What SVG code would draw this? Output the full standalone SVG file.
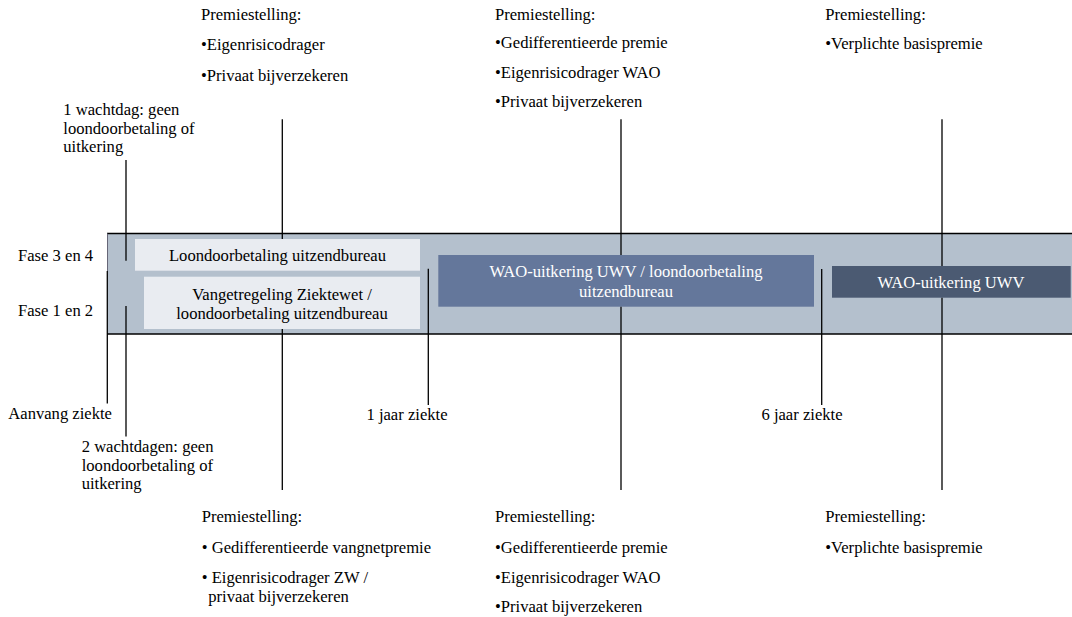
<svg xmlns="http://www.w3.org/2000/svg" width="1072" height="617" viewBox="0 0 1072 617">
<style>
text{font-family:"Liberation Serif","Times New Roman",serif;font-size:16.6px;fill:#000}
.c{text-anchor:middle}
.w{fill:#fff}
.ln{stroke:#000;stroke-width:1.3;fill:none}
.light{fill:#e9ecf1}
</style>
<rect width="1072" height="617" fill="#fff"/>
<g id="band">
<rect x="107.5" y="233.5" width="965" height="100.5" fill="#b4c0cd"/>
<line x1="107" y1="233.5" x2="1072" y2="233.5" stroke="#000" stroke-width="1.5"/>
<line x1="107" y1="334" x2="1072" y2="334" stroke="#000" stroke-width="1.5"/>
<line x1="107.5" y1="233.5" x2="107.5" y2="271" stroke="#667" stroke-width="1"/>
</g>
<g id="fase-labels">
<text x="18" y="261">Fase 3 en 4</text>
<text x="18" y="316">Fase 1 en 2</text>
</g>
<g id="loondoorbetaling">
<rect class="light" x="135" y="239" width="285" height="31.7"/>
<text class="c" x="277.5" y="261">Loondoorbetaling uitzendbureau</text>
</g>
<g id="vangnetregeling">
<rect class="light" x="144" y="276.7" width="276" height="52.3"/>
<text class="c" x="282" y="300">Vangetregeling Ziektewet /</text>
<text class="c" x="282" y="319">loondoorbetaling uitzendbureau</text>
</g>
<g id="wao-loon">
<rect x="438.3" y="255" width="375.7" height="51.7" fill="#64779b"/>
<text class="c w" x="626" y="277">WAO-uitkering UWV / loondoorbetaling</text>
<text class="c w" x="626" y="297">uitzendbureau</text>
</g>
<g id="wao-uwv">
<rect x="832" y="266" width="238.7" height="31.7" fill="#4b5a72"/>
<text class="c w" x="951" y="287.5">WAO-uitkering UWV</text>
</g>
<g id="connectors">
<line class="ln" x1="107.3" y1="271" x2="107.3" y2="403.5"/>
<line class="ln" x1="126" y1="160" x2="126" y2="260.7"/>
<line class="ln" x1="126" y1="306" x2="126" y2="436.5"/>
<line class="ln" x1="282.3" y1="119.3" x2="282.3" y2="239"/>
<line class="ln" x1="282.3" y1="329" x2="282.3" y2="490"/>
<line class="ln" x1="428.3" y1="268.7" x2="428.3" y2="405"/>
<line class="ln" x1="621" y1="119.3" x2="621" y2="255"/>
<line class="ln" x1="621" y1="306.7" x2="621" y2="490"/>
<line class="ln" x1="821.7" y1="269" x2="821.7" y2="405"/>
<line class="ln" x1="942" y1="119.3" x2="942" y2="266"/>
<line class="ln" x1="942" y1="297.7" x2="942" y2="490"/>
</g>
<g id="wachtdag-1">
<text x="63.3" y="115">1 wachtdag: geen</text>
<text x="63.3" y="133.5">loondoorbetaling of</text>
<text x="63.3" y="152">uitkering</text>
</g>
<g id="wachtdagen-2">
<text x="81.7" y="452">2 wachtdagen: geen</text>
<text x="81.7" y="470.5">loondoorbetaling of</text>
<text x="81.7" y="489">uitkering</text>
</g>
<g id="aanvang"><text x="8.3" y="419">Aanvang ziekte</text></g>
<g id="jaar-1"><text class="c" x="407" y="420">1 jaar ziekte</text></g>
<g id="jaar-6"><text class="c" x="802" y="420">6 jaar ziekte</text></g>
<g id="premie-top-1">
<text x="201" y="20">Premiestelling:</text>
<text x="201" y="50">•Eigenrisicodrager</text>
<text x="201" y="80.5">•Privaat bijverzekeren</text>
</g>
<g id="premie-top-2">
<text x="495" y="20">Premiestelling:</text>
<text x="495" y="48">•Gedifferentieerde premie</text>
<text x="495" y="78">•Eigenrisicodrager WAO</text>
<text x="495" y="107">•Privaat bijverzekeren</text>
</g>
<g id="premie-top-3">
<text x="825.3" y="20">Premiestelling:</text>
<text x="825.3" y="49">•Verplichte basispremie</text>
</g>
<g id="premie-bottom-1">
<text x="201.7" y="522">Premiestelling:</text>
<text x="201.7" y="553">• Gedifferentieerde vangnetpremie</text>
<text x="201.7" y="583">• Eigenrisicodrager ZW /</text>
<text x="208.3" y="602">privaat bijverzekeren</text>
</g>
<g id="premie-bottom-2">
<text x="495" y="522">Premiestelling:</text>
<text x="495" y="553">•Gedifferentieerde premie</text>
<text x="495" y="583">•Eigenrisicodrager WAO</text>
<text x="495" y="612">•Privaat bijverzekeren</text>
</g>
<g id="premie-bottom-3">
<text x="825.3" y="522">Premiestelling:</text>
<text x="825.3" y="553">•Verplichte basispremie</text>
</g>
</svg>
